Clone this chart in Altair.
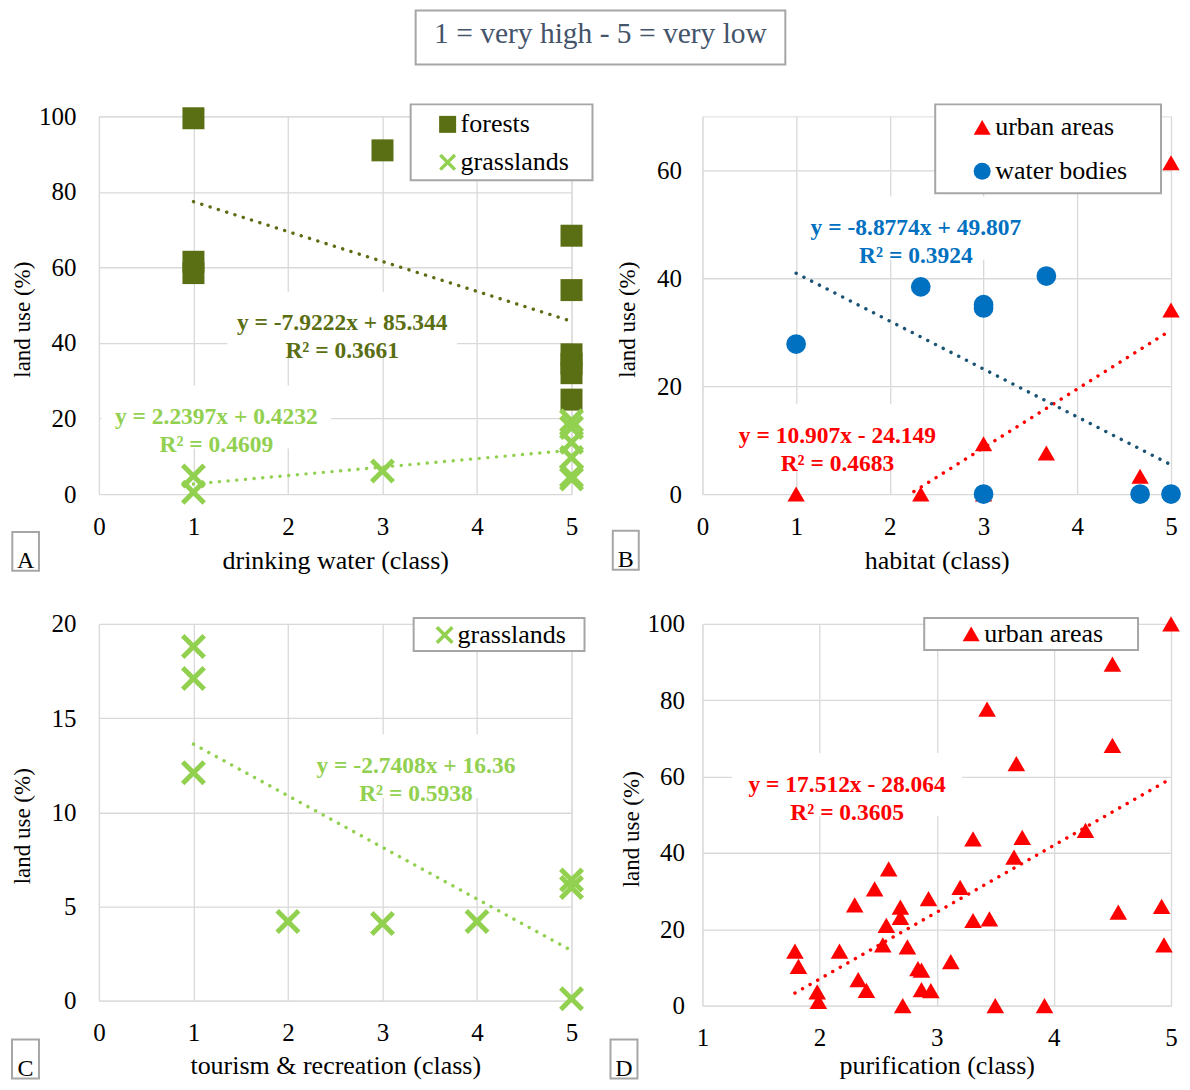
import altair as alt
import pandas as pd

FONT = "Liberation Serif"
GRID = "#D9D9D9"
OLIVE = "#5A6E13"
LGREEN = "#92D050"
RED = "#FF0000"
BLUE = "#0070C0"
BLUE_TREND = "#1B5374"
FRAME = "#A6A6A6"
HEAD = "#44546A"
X_PATH = "M0,-0.28L0.72,-1L1,-0.72L0.28,0L1,0.72L0.72,1L0,0.28L-0.72,1L-1,0.72L-0.28,0L-1,-0.72L-0.72,-1Z"
BOX_PATH = "M-1,-0.275L1,-0.275L1,0.275L-1,0.275Z"

# ---------------- data ----------------
header_text = "1 = very high - 5 = very low"
ytitle = "land use (%)"

classes_0_5 = [0, 1, 2, 3, 4, 5]
classes_1_5 = [1, 2, 3, 4, 5]
ticks_A = [0, 20, 40, 60, 80, 100]
ticks_B = [0, 20, 40, 60]
ticks_C = [0, 5, 10, 15, 20]
ticks_D = [0, 20, 40, 60, 80, 100]

# Panel A: drinking water
forest_x = [1, 1, 1, 3, 5, 5, 5, 5, 5, 5]
forest_y = [99.5, 61.5, 58.5, 91.0, 68.4, 54.0, 37.0, 34.5, 32.0, 25.0]
grassA_x = [1, 1, 3, 5, 5, 5, 5, 5, 5]
grassA_y = [4.8, 0.5, 6.1, 19.4, 17.6, 13.7, 9.7, 4.8, 4.0]

# Panel B: habitat
urbanB_x = [1, 2.33, 3, 3, 3.67, 4.67, 5, 5]
urbanB_y = [0, 0, 0, 9.3, 7.6, 3.3, 61.4, 34.1]
waterB_x = [1, 2.33, 3, 3, 3.67, 3, 4.67, 5]
waterB_y = [27.8, 38.4, 35.1, 34.5, 40.4, 0, 0, 0]

# Panel C: tourism & recreation
grassC_x = [1, 1, 1, 2, 3, 4, 5, 5, 5]
grassC_y = [18.8, 17.1, 12.1, 4.2, 4.1, 4.2, 6.4, 6.0, 0.1]

# Panel D: purification
urbanD_x = [5.00, 4.50, 3.43, 4.50, 3.68, 4.27, 3.31, 3.73, 3.66, 2.59,
            2.47, 3.20, 2.30, 2.93, 2.69, 2.69, 2.57, 3.31, 3.45, 4.55,
            4.92, 4.94, 2.54, 2.75, 1.79, 2.17, 1.82, 3.12, 2.84, 2.87,
            2.33, 2.40, 2.87, 2.95, 1.98, 1.99, 2.71, 3.50, 3.92]
urbanD_y = [100.0, 89.5, 77.7, 68.2, 63.4, 45.9, 43.7, 44.1, 38.9, 35.8,
            30.6, 31.0, 26.4, 28.0, 25.8, 23.1, 21.0, 22.3, 22.7, 24.5,
            26.0, 15.9, 15.9, 15.4, 14.3, 14.3, 10.3, 11.5, 9.7, 9.3,
            6.8, 4.0, 4.2, 3.9, 3.6, 1.1, 0.0, 0.0, 0.0]

# trend lines (slope, intercept, x-range) and their labels
trend_slopes = [-7.9222, 2.2397, -8.8774, 10.907, -2.7408, 17.512]
trend_intercepts = [85.344, 0.4232, 49.807, -24.149, 16.36, -28.064]
trend_ranges = [[1, 5], [1, 5], [1, 5], [1, 5], [1, 5], [1.79, 5]]
trend_eq = ["y = -7.9222x + 85.344", "y = 2.2397x + 0.4232", "y = -8.8774x + 49.807",
            "y = 10.907x - 24.149", "y = -2.7408x + 16.36", "y = 17.512x - 28.064"]
trend_r2 = ["R² = 0.3661", "R² = 0.4609", "R² = 0.3924", "R² = 0.4683", "R² = 0.5938", "R² = 0.3605"]
label_x = [2.574, 1.242, 2.278, 1.441, 3.354, 2.235]
label_y = [45.2, 20.4, 49.3, 10.8, 12.45, 57.9]

ONE = pd.DataFrame({"k": [0]})


def encodings(xdom, xvals, ydom, yvals, w, h, xtitle, ylabpad, xty, ytx, yty):
    X = alt.X("x:Q", scale=alt.Scale(domain=xdom, nice=False, zero=False),
              axis=alt.Axis(values=xvals, format="d", title=xtitle, grid=True, gridColor=GRID,
                            gridWidth=1.3, domain=False, ticks=False, labelFont=FONT,
                            labelFontSize=25, labelColor="black", labelPadding=20,
                            labelFlush=False, labelOverlap=False, labelBound=False,
                            titleFont=FONT, titleFontSize=26, titleFontWeight="normal",
                            titleColor="black", titleX=w / 2, titleY=xty,
                            titleBaseline="alphabetic", titleAlign="center"))
    Y = alt.Y("y:Q", scale=alt.Scale(domain=ydom, nice=False, zero=False),
              axis=alt.Axis(values=yvals, format="d", title=ytitle, grid=True, gridColor=GRID,
                            gridWidth=1.3, domain=False, ticks=False, labelFont=FONT,
                            labelFontSize=25, labelColor="black", labelPadding=ylabpad,
                            labelFlush=False, labelOverlap=False, labelBound=False,
                            titleFont=FONT, titleFontSize=23, titleFontWeight="normal",
                            titleColor="black", titleX=ytx, titleY=yty, titleAngle=270,
                            titleBaseline="alphabetic", titleAlign="center"))
    return X, Y


def scatter(xs, ys, X, Y, shape, color, size):
    return alt.Chart(pd.DataFrame({"x": xs, "y": ys})).mark_point(
        shape=shape, filled=True, color=color, size=size, opacity=1, strokeWidth=0
    ).encode(x=X, y=Y)


def trend(i, X, Y, color):
    return alt.Chart(pd.DataFrame({"x": trend_ranges[i]})).transform_calculate(
        y=f"{trend_slopes[i]} * datum.x + ({trend_intercepts[i]})"
    ).mark_line(color=color, strokeWidth=3.4, strokeDash=[0.1, 8.6], strokeCap="round",
                clip=True).encode(x=X, y=Y)


def eq_label(i, X, Y, color):
    df = pd.DataFrame({"x": [label_x[i]], "y": [label_y[i]],
                       "t": [trend_eq[i] + "\n" + trend_r2[i]]})
    box = alt.Chart(df).mark_point(shape=BOX_PATH, size=230 ** 2, filled=True, color="white",
                                   opacity=1, strokeWidth=0).encode(x=X, y=Y)
    txt = alt.Chart(df).mark_text(font=FONT, fontSize=23.5, fontWeight="bold", color=color,
                                  lineBreak="\n", lineHeight=28, align="center",
                                  baseline="middle").encode(x=X, y=Y, text="t:N")
    return box, txt


def frame(x1, x2, y1, y2):
    return alt.Chart(ONE).mark_rect(fill="white", stroke=FRAME, strokeWidth=2).encode(
        x=alt.value(x1), x2=alt.value(x2), y=alt.value(y1), y2=alt.value(y2))


def sym(x, y, shape, color, size=289):
    return alt.Chart(ONE).mark_point(shape=shape, filled=True, color=color, size=size,
                                     opacity=1, strokeWidth=0).encode(
        x=alt.value(x), y=alt.value(y))


def label(x, y, text, size=26, color="black", align="left", baseline="middle"):
    return alt.Chart(ONE).mark_text(font=FONT, fontSize=size, color=color, align=align,
                                    baseline=baseline).encode(
        x=alt.value(x), y=alt.value(y), text=alt.value(text))


# ---------------- Panel A ----------------
wA, hA = 473, 378
XA, YA = encodings([0, 5], classes_0_5, [0, 100], ticks_A, wA, hA,
                   "drinking water (class)", 23, 75, -69, 203)
boxA1, txtA1 = eq_label(0, XA, YA, OLIVE)
boxA2, txtA2 = eq_label(1, XA, YA, LGREEN)
panelA = alt.layer(
    boxA1, boxA2,
    trend(0, XA, YA, OLIVE),
    trend(1, XA, YA, LGREEN),
    scatter(forest_x, forest_y, XA, YA, "square", OLIVE, 484),
    scatter(grassA_x, grassA_y, XA, YA, X_PATH, LGREEN, 625),
    txtA1, txtA2,
    frame(312, 494, -12, 64),
    sym(349, 8, "square", OLIVE), label(362, 8, "forests"),
    sym(349, 46, X_PATH, LGREEN), label(362, 46, "grasslands"),
    frame(-86.7, -60, 416, 454.7), label(-73.3, 452.3, "A", 24, align="center", baseline="alphabetic"),
    frame(317, 687, -106, -52), label(502, -82, header_text, 29.5, HEAD, "center", "middle"),
).properties(width=wA, height=hA)

# ---------------- Panel B ----------------
wB, hB = 469, 378
XB, YB = encodings([0, 5], classes_0_5, [0, 70], ticks_B, wB, hB,
                   "habitat (class)", 21, 75, -68, 203)
boxB1, txtB1 = eq_label(2, XB, YB, BLUE)
boxB2, txtB2 = eq_label(3, XB, YB, RED)
panelB = alt.layer(
    boxB1, boxB2,
    trend(3, XB, YB, RED),
    trend(2, XB, YB, BLUE_TREND),
    scatter(urbanB_x, urbanB_y, XB, YB, "triangle-up", RED, 300),
    scatter(waterB_x, waterB_y, XB, YB, "circle", BLUE, 390),
    txtB1, txtB2,
    frame(233, 459, -12, 77),
    sym(280, 11, "triangle-up", RED), label(293, 11, "urban areas"),
    sym(280, 55, "circle", BLUE), label(293, 55, "water bodies"),
    frame(-89.7, -63.7, 414.7, 453.7), label(-76.7, 451.3, "B", 24, align="center", baseline="alphabetic"),
).properties(width=wB, height=hB)

# ---------------- Panel C ----------------
wC, hC = 473, 377
XC, YC = encodings([0, 5], classes_0_5, [0, 20], ticks_C, wC, hC,
                   "tourism & recreation (class)", 23, 73, -69, 202)
boxC, txtC = eq_label(4, XC, YC, LGREEN)
panelC = alt.layer(
    boxC,
    trend(4, XC, YC, LGREEN),
    scatter(grassC_x, grassC_y, XC, YC, X_PATH, LGREEN, 625),
    txtC,
    frame(315, 486, -6, 27),
    sym(346, 11, X_PATH, LGREEN, 324), label(359, 11, "grasslands"),
    frame(-87, -60, 416, 455), label(-73.5, 452, "C", 24, align="center", baseline="alphabetic"),
).properties(width=wC, height=hC)

# ---------------- Panel D ----------------
wD, hD = 469, 382
XD, YD = encodings([1, 5], classes_1_5, [0, 100], ticks_D, wD, hD,
                   "purification (class)", 18, 68, -64, 205)
boxD, txtD = eq_label(5, XD, YD, RED)
panelD = alt.layer(
    boxD,
    trend(5, XD, YD, RED),
    scatter(urbanD_x, urbanD_y, XD, YD, "triangle-up", RED, 310),
    txtD,
    frame(222, 436, -6, 26),
    sym(269, 10, "triangle-up", RED), label(282, 10, "urban areas"),
    frame(-92, -65, 416, 455), label(-78.5, 452, "D", 24, align="center", baseline="alphabetic"),
).properties(width=wD, height=hD)

chart = alt.concat(
    panelA, panelB, panelC, panelD, columns=2,
    spacing={"row": 130, "column": 131}, bounds="flush"
).properties(
    padding={"left": 2, "top": 0, "right": 0, "bottom": 0}
).configure_view(strokeWidth=0).configure(font=FONT)

chart.save("out.html", embed_options={"renderer": "svg", "actions": False})
